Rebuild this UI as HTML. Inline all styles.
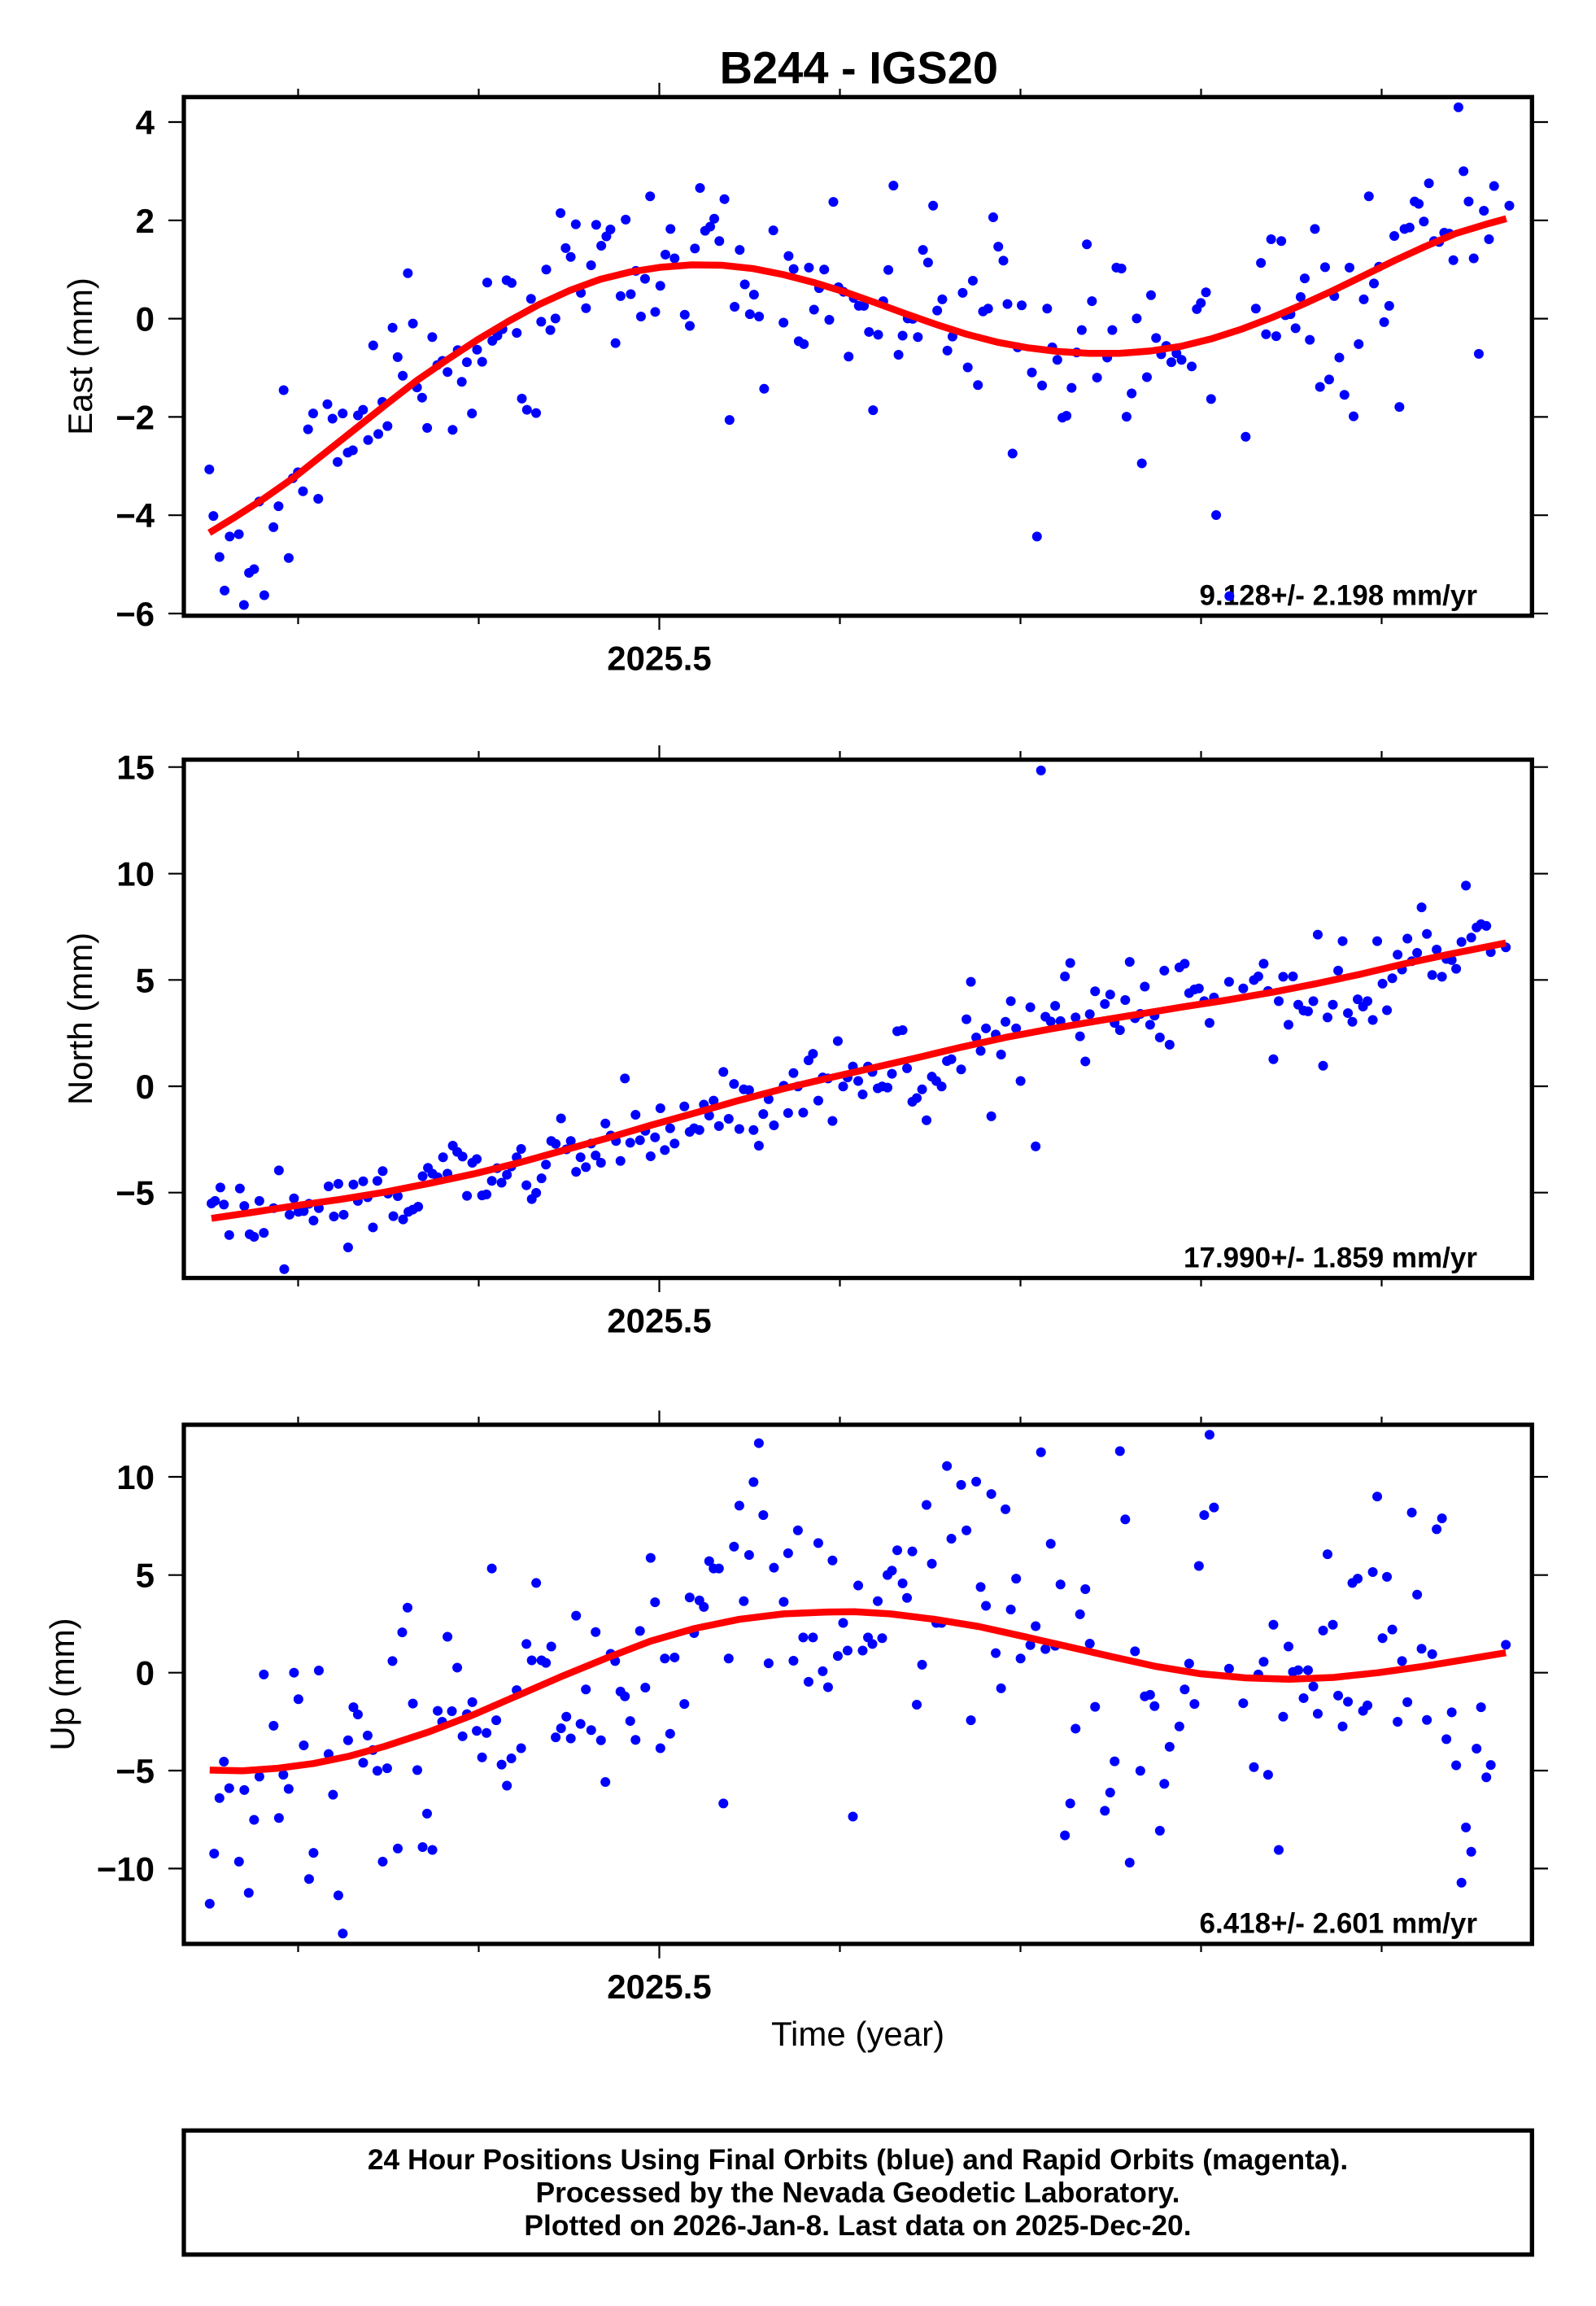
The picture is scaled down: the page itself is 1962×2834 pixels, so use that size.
<!DOCTYPE html>
<html><head><meta charset="utf-8"><style>html,body{margin:0;padding:0;background:#fff}svg{display:block}</style></head>
<body>
<svg width="1962" height="2834" viewBox="0 0 1962 2834" xmlns="http://www.w3.org/2000/svg" font-family="'Liberation Sans', Arial, Helvetica, sans-serif">
<rect width="1962" height="2834" fill="#fff"/>
<text x="1055.8" y="102.7" font-size="56" font-weight="bold" text-anchor="middle">B244 - IGS20</text>

<!-- ===== Panel 1 ===== -->
<g font-size="42" font-weight="bold" text-anchor="end">
<text x="190" y="165">4</text><text x="190" y="285.8">2</text><text x="190" y="406.6">0</text><text x="190" y="527.4">−2</text><text x="190" y="648.2">−4</text><text x="190" y="769">−6</text>
</g>
<g stroke="#000" stroke-width="2.2">
<path d="M207 150H224M207 270.8H224M207 391.6H224M207 512.4H224M207 633.2H224M207 754H224M1886 150H1903M1886 270.8H1903M1886 391.6H1903M1886 512.4H1903M1886 633.2H1903M1886 754H1903"/>
<path d="M366.5 116.7V109M588.5 116.7V109M810.5 116.7V101.7M1032.5 116.7V109M1254.5 116.7V109M1476.5 116.7V109M1698.5 116.7V109M366.5 759.3V767M588.5 759.3V767M810.5 759.3V774M1032.5 759.3V767M1254.5 759.3V767M1476.5 759.3V767M1698.5 759.3V767"/>
</g>
<text x="810.5" y="823.7" font-size="42" font-weight="bold" text-anchor="middle">2025.5</text>
<text transform="translate(113,438) rotate(-90)" font-size="42" text-anchor="middle">East (mm)</text>
<text x="1816" y="743.3" font-size="35" font-weight="bold" text-anchor="end">9.128+/- 2.198 mm/yr</text>
<g transform="matrix(1.2515 0 0 0.5727 -0.5 0.75)" fill="none">
<path vector-effect="non-scaling-stroke" stroke="#0000ff" stroke-width="12" stroke-linecap="round" d="M206 1006h.01M210 1106h.01M216 1194h.01M221 1266h.01M226 1150h.01M235 1145h.01M240 1297h.01M245 1228h.01M250 1220h.01M255 1075h.01M260 1276h.01M269 1130h.01M274 1085h.01M279 836h.01M284 1196h.01M288 1025h.01M293 1012h.01M298 1053h.01M303 920h.01M308 886h.01M313 1069h.01M322 866h.01M327 897h.01M332 990h.01M337 886h.01M342 970h.01M347 965h.01M352 890h.01M357 878h.01M362 943h.01M367 740h.01M372 930h.01M376 861h.01M381 913h.01M386 702h.01M391 765h.01M396 805h.01M401 585h.01M406 693h.01M410 830h.01M415 852h.01M420 917h.01M425 722h.01M430 782h.01M435 773h.01M440 797h.01M445 921h.01M450 750h.01M454 818h.01M459 776h.01M464 886h.01M469 749h.01M474 775h.01M479 605h.01M484 730h.01M489 719h.01M494 705h.01M498 600h.01M503 606h.01M508 713h.01M513 854h.01M518 878h.01M522 640h.01M527 885h.01M532 689h.01M537 577h.01M541 707h.01M546 682h.01M551 456h.01M556 531h.01M561 550h.01M566 480h.01M571 627h.01M576 660h.01M581 568h.01M586 481h.01M591 526h.01M596 506h.01M600 491h.01M605 735h.01M610 634h.01M615 470h.01M620 630h.01M625 580h.01M630 678h.01M634 597h.01M639 420h.01M644 668h.01M649 612h.01M654 545h.01M659 490h.01M663 553h.01M673 674h.01M678 698h.01M683 532h.01M688 402h.01M693 494h.01M698 485h.01M702 468h.01M707 516h.01M712 426h.01M717 900h.01M722 657h.01M727 535h.01M732 609h.01M737 673h.01M741 631h.01M746 678h.01M751 833h.01M760 493h.01M770 691h.01M775 548h.01M780 576h.01M785 731h.01M790 737h.01M795 573h.01M800 663h.01M805 617h.01M810 577h.01M815 685h.01M819 432h.01M824 615h.01M829 625h.01M834 764h.01M839 638h.01M844 655h.01M849 655h.01M854 711h.01M858 879h.01M863 717h.01M868 645h.01M873 578h.01M878 397h.01M883 760h.01M887 719h.01M892 682h.01M897 683h.01M902 722h.01M907 535h.01M912 562h.01M917 440h.01M921 665h.01M926 641h.01M931 751h.01M936 721h.01M946 627h.01M951 787h.01M956 601h.01M961 825h.01M966 667h.01M971 661h.01M976 465h.01M981 528h.01M986 558h.01M990 651h.01M995 972h.01M1000 744h.01M1004 654h.01M1014 798h.01M1019 1150h.01M1024 826h.01M1029 661h.01M1034 744h.01M1039 771h.01M1044 895h.01M1048 891h.01M1053 831h.01M1058 755h.01M1063 707h.01M1068 523h.01M1073 645h.01M1078 809h.01M1088 766h.01M1093 707h.01M1097 573h.01M1102 575h.01M1107 893h.01M1112 843h.01M1117 682h.01M1122 993h.01M1127 808h.01M1131 632h.01M1136 724h.01M1141 759h.01M1146 741h.01M1151 776h.01M1156 757h.01M1161 771h.01M1171 785h.01M1176 662h.01M1180 649h.01M1185 626h.01M1190 855h.01M1195 1104h.01M1208 1278h.01M1224 936h.01M1234 661h.01M1239 563h.01M1244 716h.01M1249 512h.01M1254 720h.01M1259 516h.01M1263 675h.01M1268 673h.01M1273 703h.01M1278 636h.01M1282 596h.01M1287 728h.01M1292 490h.01M1297 829h.01M1302 572h.01M1306 813h.01M1311 634h.01M1316 766h.01M1321 846h.01M1326 573h.01M1330 892h.01M1335 737h.01M1340 641h.01M1345 420h.01M1350 607h.01M1355 571h.01M1360 690h.01M1365 655h.01M1370 505h.01M1375 872h.01M1380 490h.01M1385 487h.01M1390 431h.01M1394 436h.01M1399 474h.01M1404 392h.01M1409 516h.01M1414 518h.01M1419 498h.01M1424 500h.01M1428 557h.01M1433 229h.01M1438 366h.01M1443 431h.01M1448 553h.01M1453 758h.01M1458 451h.01M1463 512h.01M1468 398h.01M1483 440h.01"/>
<path vector-effect="non-scaling-stroke" stroke="#ff0000" stroke-width="8.5" stroke-linejoin="round" stroke-linecap="butt" d="M206 1142L230 1110L260 1068L290 1022L320 970L350 918L380 866L410 815L440 770L470 727L500 688L530 652L560 622L590 598L620 582L650 572L680 567L710 568L740 575L770 588L800 605L830 625L860 648L890 672L920 695L950 716L980 733L1010 745L1040 753L1070 757L1100 757L1130 752L1160 742L1190 726L1220 705L1250 680L1280 652L1310 622L1340 590L1370 558L1400 528L1430 500L1460 480L1480 468"/>
</g>
<rect x="226" y="119.3" width="1657.3" height="637.4" fill="none" stroke="#000" stroke-width="5.3"/>

<!-- ===== Panel 2 ===== -->
<g font-size="42" font-weight="bold" text-anchor="end">
<text x="190" y="957.7">15</text><text x="190" y="1088.7">10</text><text x="190" y="1219.3">5</text><text x="190" y="1350">0</text><text x="190" y="1480.7">−5</text>
</g>
<g stroke="#000" stroke-width="2.2">
<path d="M207 942.7H224M207 1073.7H224M207 1204.3H224M207 1335H224M207 1465.7H224M1886 942.7H1903M1886 1073.7H1903M1886 1204.3H1903M1886 1335H1903M1886 1465.7H1903"/>
<path d="M366.5 930.9V923M588.5 930.9V923M810.5 930.9V916M1032.5 930.9V923M1254.5 930.9V923M1476.5 930.9V923M1698.5 930.9V923M366.5 1573.1V1581M588.5 1573.1V1581M810.5 1573.1V1588M1032.5 1573.1V1581M1254.5 1573.1V1581M1476.5 1573.1V1581M1698.5 1573.1V1581"/>
</g>
<text x="810.5" y="1637.5" font-size="42" font-weight="bold" text-anchor="middle">2025.5</text>
<text transform="translate(113,1252) rotate(-90)" font-size="42" text-anchor="middle">North (mm)</text>
<text x="1816" y="1557.3" font-size="35" font-weight="bold" text-anchor="end">17.990+/- 1.859 mm/yr</text>
<g transform="matrix(1.0906 0 0 0.4464 200 900)" fill="none">
<path vector-effect="non-scaling-stroke" stroke="#0000ff" stroke-width="12" stroke-linecap="round" d="M55 1297h.01M59 1290h.01M65 1253h.01M69 1300h.01M75 1384h.01M87 1256h.01M92 1304h.01M98 1382h.01M103 1389h.01M109 1290h.01M114 1378h.01M125 1310h.01M131 1206h.01M137 1478h.01M143 1328h.01M148 1283h.01M153 1320h.01M159 1318h.01M165 1298h.01M170 1344h.01M176 1310h.01M187 1250h.01M193 1333h.01M198 1243h.01M204 1328h.01M209 1418h.01M215 1245h.01M220 1290h.01M226 1236h.01M231 1280h.01M237 1363h.01M242 1235h.01M248 1208h.01M254 1270h.01M260 1332h.01M265 1277h.01M271 1341h.01M277 1320h.01M282 1314h.01M288 1306h.01M293 1222h.01M299 1199h.01M304 1215h.01M310 1225h.01M316 1170h.01M321 1215h.01M327 1138h.01M332 1155h.01M338 1168h.01M343 1276h.01M349 1185h.01M354 1175h.01M360 1275h.01M365 1272h.01M371 1235h.01M377 1200h.01M382 1240h.01M388 1218h.01M393 1195h.01M399 1170h.01M404 1147h.01M410 1247h.01M416 1285h.01M421 1268h.01M427 1228h.01M432 1190h.01M438 1125h.01M443 1133h.01M449 1063h.01M455 1148h.01M460 1125h.01M466 1210h.01M471 1170h.01M477 1197h.01M483 1132h.01M488 1165h.01M494 1185h.01M499 1077h.01M505 1110h.01M511 1125h.01M516 1180h.01M521 953h.01M527 1130h.01M533 1053h.01M538 1123h.01M544 1097h.01M550 1167h.01M555 1115h.01M561 1035h.01M566 1150h.01M572 1090h.01M577 1132h.01M588 1030h.01M594 1100h.01M599 1090h.01M605 1095h.01M610 1025h.01M616 1055h.01M621 1014h.01M627 1084h.01M632 935h.01M638 1064h.01M644 968h.01M650 1092h.01M655 983h.01M661 985h.01M666 1095h.01M672 1138h.01M677 1051h.01M683 1010h.01M689 1082h.01M700 973h.01M705 1048h.01M711 938h.01M716 975h.01M722 1047h.01M728 903h.01M733 885h.01M739 1014h.01M744 950h.01M750 953h.01M755 1070h.01M761 850h.01M767 975h.01M772 950h.01M778 920h.01M784 960h.01M789 997h.01M795 920h.01M800 935h.01M806 980h.01M811 975h.01M817 978h.01M822 940h.01M828 823h.01M834 820h.01M839 925h.01M845 1017h.01M850 1007h.01M856 983h.01M861 1068h.01M867 948h.01M872 960h.01M878 975h.01M884 905h.01M889 900h.01M900 928h.01M906 790h.01M911 687h.01M917 840h.01M922 877h.01M928 815h.01M934 1057h.01M939 832h.01M945 887h.01M950 797h.01M956 740h.01M962 815h.01M967 960h.01M978 757h.01M984 1140h.01M990 105h.01M995 783h.01M1001 796h.01M1006 753h.01M1012 795h.01M1017 672h.01M1023 635h.01M1029 785h.01M1034 837h.01M1040 906h.01M1045 776h.01M1051 713h.01M1062 748h.01M1068 722h.01M1073 800h.01M1079 820h.01M1085 737h.01M1090 632h.01M1096 787h.01M1102 775h.01M1107 700h.01M1113 805h.01M1118 780h.01M1124 840h.01M1129 656h.01M1135 860h.01M1146 647h.01M1152 637h.01M1157 718h.01M1163 708h.01M1168 705h.01M1174 740h.01M1180 800h.01M1185 730h.01M1202 687h.01M1218 705h.01M1230 682h.01M1235 672h.01M1241 637h.01M1246 712h.01M1252 900h.01M1258 740h.01M1263 673h.01M1269 805h.01M1274 672h.01M1280 750h.01M1286 766h.01M1291 768h.01M1297 740h.01M1302 557h.01M1308 918h.01M1313 785h.01M1319 750h.01M1325 656h.01M1330 575h.01M1336 773h.01M1341 797h.01M1347 735h.01M1353 755h.01M1358 740h.01M1364 792h.01M1369 575h.01M1375 692h.01M1380 765h.01M1386 677h.01M1392 612h.01M1397 653h.01M1403 568h.01M1408 630h.01M1414 607h.01M1419 482h.01M1425 555h.01M1431 668h.01M1436 598h.01M1442 673h.01M1447 624h.01M1453 627h.01M1458 651h.01M1464 577h.01M1469 422h.01M1475 565h.01M1481 537h.01M1486 528h.01M1492 533h.01M1497 605h.01M1514 592h.01"/>
<path vector-effect="non-scaling-stroke" stroke="#ff0000" stroke-width="8.5" stroke-linejoin="round" d="M55 1338L100 1322L150 1303L200 1286L250 1266L300 1242L350 1216L400 1186L450 1152L500 1118L550 1082L600 1048L650 1013L700 981L750 952L800 924L850 896L900 867L950 840L1000 817L1050 796L1100 776L1150 756L1200 737L1250 716L1300 692L1350 666L1400 637L1450 611L1514 580"/>
</g>
<rect x="226" y="933.6" width="1657.3" height="637" fill="none" stroke="#000" stroke-width="5.3"/>

<!-- ===== Panel 3 ===== -->
<g font-size="42" font-weight="bold" text-anchor="end">
<text x="190" y="1830">10</text><text x="190" y="1950.7">5</text><text x="190" y="2070.7">0</text><text x="190" y="2191">−5</text><text x="190" y="2311.4">−10</text>
</g>
<g stroke="#000" stroke-width="2.2">
<path d="M207 1815H224M207 1935.7H224M207 2055.7H224M207 2176H224M207 2296.4H224M1886 1815H1903M1886 1935.7H1903M1886 2055.7H1903M1886 2176H1903M1886 2296.4H1903"/>
<path d="M366.5 1748.4V1741M588.5 1748.4V1741M810.5 1748.4V1733.5M1032.5 1748.4V1741M1254.5 1748.4V1741M1476.5 1748.4V1741M1698.5 1748.4V1741M366.5 2391.6V2399M588.5 2391.6V2399M810.5 2391.6V2406.7M1032.5 2391.6V2399M1254.5 2391.6V2399M1476.5 2391.6V2399M1698.5 2391.6V2399"/>
</g>
<text x="810.5" y="2456" font-size="42" font-weight="bold" text-anchor="middle">2025.5</text>
<text transform="translate(91,2070) rotate(-90)" font-size="42" text-anchor="middle">Up (mm)</text>
<text x="1816" y="2375.6" font-size="35" font-weight="bold" text-anchor="end">6.418+/- 2.601 mm/yr</text>
<g transform="matrix(1.0906 0 0 0.4464 200 1720)" fill="none">
<path vector-effect="non-scaling-stroke" stroke="#0000ff" stroke-width="12" stroke-linecap="round" d="M53 1388h.01M58 1250h.01M64 1097h.01M69 997h.01M75 1070h.01M86 1272h.01M92 1075h.01M97 1358h.01M103 1157h.01M109 1038h.01M114 757h.01M125 898h.01M131 1152h.01M136 1033h.01M142 1072h.01M148 752h.01M153 825h.01M159 952h.01M165 1320h.01M170 1248h.01M176 746h.01M187 976h.01M192 1088h.01M198 1365h.01M203 1470h.01M209 938h.01M215 847h.01M220 867h.01M226 1000h.01M231 925h.01M237 965h.01M242 1022h.01M248 1272h.01M253 1015h.01M259 720h.01M265 1236h.01M270 641h.01M276 573h.01M282 837h.01M287 1020h.01M293 1232h.01M298 1140h.01M304 1240h.01M310 857h.01M315 887h.01M321 653h.01M326 858h.01M332 738h.01M338 927h.01M343 866h.01M349 833h.01M354 912h.01M360 985h.01M365 918h.01M371 465h.01M376 883h.01M382 1005h.01M388 1063h.01M393 988h.01M399 800h.01M404 960h.01M410 673h.01M416 718h.01M421 505h.01M427 718h.01M432 725h.01M438 680h.01M443 930h.01M449 905h.01M455 873h.01M460 933h.01M466 595h.01M471 893h.01M477 798h.01M483 910h.01M488 640h.01M494 938h.01M499 1053h.01M505 700h.01M510 720h.01M516 804h.01M521 817h.01M527 885h.01M533 937h.01M538 637h.01M544 793h.01M550 436h.01M555 558h.01M561 960h.01M566 713h.01M572 920h.01M577 710h.01M588 838h.01M594 545h.01M599 643h.01M605 553h.01M610 571h.01M616 445h.01M621 465h.01M627 465h.01M632 1112h.01M638 713h.01M644 405h.01M650 292h.01M655 555h.01M661 428h.01M666 227h.01M672 120h.01M677 318h.01M683 726h.01M689 463h.01M700 557h.01M705 423h.01M711 719h.01M716 360h.01M722 655h.01M728 777h.01M733 655h.01M739 395h.01M744 748h.01M750 792h.01M755 443h.01M761 706h.01M767 615h.01M772 691h.01M778 1148h.01M784 512h.01M789 691h.01M795 655h.01M800 673h.01M806 555h.01M811 657h.01M817 483h.01M822 471h.01M828 415h.01M834 506h.01M839 546h.01M845 418h.01M850 840h.01M856 730h.01M861 290h.01M867 452h.01M872 615h.01M878 615h.01M884 183h.01M889 383h.01M900 235h.01M906 360h.01M911 883h.01M917 226h.01M922 516h.01M928 568h.01M934 260h.01M939 698h.01M945 795h.01M950 302h.01M956 578h.01M962 493h.01M967 713h.01M978 676h.01M984 624h.01M990 145h.01M995 687h.01M1001 397h.01M1006 678h.01M1012 509h.01M1017 1200h.01M1023 1112h.01M1029 906h.01M1034 591h.01M1040 522h.01M1045 672h.01M1051 846h.01M1062 1132h.01M1068 1082h.01M1073 996h.01M1079 142h.01M1085 330h.01M1090 1275h.01M1096 693h.01M1102 1022h.01M1107 817h.01M1113 813h.01M1118 844h.01M1124 1187h.01M1129 1058h.01M1135 956h.01M1146 900h.01M1152 798h.01M1157 727h.01M1163 838h.01M1168 458h.01M1174 318h.01M1180 97h.01M1185 297h.01M1202 741h.01M1218 836h.01M1230 1012h.01M1235 757h.01M1241 722h.01M1246 1033h.01M1252 620h.01M1258 1240h.01M1263 873h.01M1269 680h.01M1274 750h.01M1280 745h.01M1286 822h.01M1291 745h.01M1297 790h.01M1302 865h.01M1308 636h.01M1313 426h.01M1319 620h.01M1325 815h.01M1330 900h.01M1336 832h.01M1341 505h.01M1347 493h.01M1353 857h.01M1358 842h.01M1364 475h.01M1369 267h.01M1375 657h.01M1380 488h.01M1386 633h.01M1392 887h.01M1397 720h.01M1403 833h.01M1408 311h.01M1414 537h.01M1419 686h.01M1425 882h.01M1431 701h.01M1436 357h.01M1442 327h.01M1447 935h.01M1453 861h.01M1458 1007h.01M1464 1330h.01M1469 1178h.01M1475 1245h.01M1481 961h.01M1486 847h.01M1492 1040h.01M1497 1006h.01M1514 675h.01"/>
<path vector-effect="non-scaling-stroke" stroke="#ff0000" stroke-width="8.5" stroke-linejoin="round" d="M53 1020L90 1022L130 1015L170 1002L210 982L250 955L300 915L350 868L400 815L450 762L500 712L550 665L600 630L650 605L700 590L750 585L780 584L820 590L870 605L920 625L970 652L1020 680L1070 708L1120 735L1170 755L1220 766L1270 770L1320 765L1370 752L1420 735L1470 715L1514 697"/>
</g>
<rect x="226" y="1751" width="1657.3" height="638" fill="none" stroke="#000" stroke-width="5.3"/>

<text x="1054.5" y="2514" font-size="42" text-anchor="middle">Time (year)</text>

<!-- ===== Footer ===== -->
<rect x="226" y="2618.3" width="1657.3" height="152.5" fill="none" stroke="#000" stroke-width="5.3"/>
<g font-size="35.4" font-weight="bold" text-anchor="middle">
<text x="1054.5" y="2666">24 Hour Positions Using Final Orbits (blue) and Rapid Orbits (magenta).</text>
<text x="1054.5" y="2706.5">Processed by the Nevada Geodetic Laboratory.</text>
<text x="1054.5" y="2747">Plotted on 2026-Jan-8. Last data on 2025-Dec-20.</text>
</g>
</svg>
</body></html>
